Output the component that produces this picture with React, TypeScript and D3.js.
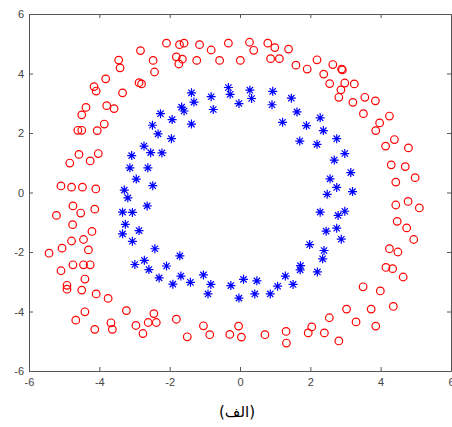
import React, { useRef, useEffect } from "react";
import * as d3 from "d3";

// outer ring, class 1 (red circles)
const redPoints: [number, number][] = [
  [-5.09, 0.22], [-4.79, 0.18], [-4.48, 0.18], [-4.1, 0.12], [-4.84, 0.99],
  [-4.58, 1.28], [-4.26, 1.06], [-4.03, 1.31], [-4.61, 2.09], [-4.5, 2.09],
  [-4.06, 2.08], [-4.5, 2.61], [-4.38, 2.86], [-3.86, 2.3], [-3.79, 2.92],
  [-3.58, 2.82], [-4.15, 3.56], [-4.09, 3.41], [-3.82, 3.82], [-3.34, 3.35],
  [-3.45, 4.45], [-3.41, 4.19], [-2.87, 3.69], [-2.8, 3.65], [-2.83, 4.77],
  [-2.47, 4.44], [-2.43, 4.05], [-2.09, 5.02], [-1.81, 4.56], [-1.74, 4.32],
  [-1.72, 4.97], [-1.59, 5.02], [-1.64, 4.48], [-1.23, 4.44], [-1.15, 4.97],
  [-0.82, 4.79], [-0.58, 4.44], [-0.33, 5.02], [0.01, 4.44], [0.27, 5.05],
  [0.39, 4.78], [0.79, 5.02], [0.99, 4.87], [0.87, 4.5], [1.12, 4.5],
  [1.38, 4.82], [1.59, 4.28], [1.91, 4.15], [2.19, 4.46], [2.38, 3.98],
  [2.55, 3.66], [2.64, 4.3], [2.89, 4.15], [2.91, 4.12], [2.98, 3.68],
  [3.25, 3.65], [2.87, 3.45], [2.81, 3.2], [3.21, 3.03], [3.55, 3.2],
  [3.85, 3.08], [3.51, 2.65], [4.25, 2.57], [3.97, 2.34], [3.86, 2.08],
  [4.39, 1.78], [4.14, 1.56], [4.79, 1.5], [4.3, 0.93], [4.7, 0.87],
  [4.98, 0.5], [4.43, 0.35], [4.43, -0.42], [4.78, -0.3], [5.1, -0.52],
  [4.47, -0.97], [4.74, -1.19], [4.94, -1.58], [4.25, -1.89], [4.49, -2.0],
  [4.15, -2.52], [4.34, -2.56], [4.64, -2.84], [3.5, -3.17], [3.99, -3.31],
  [3.03, -3.92], [3.73, -3.92], [4.36, -3.83], [3.3, -4.35], [3.86, -4.49],
  [2.54, -4.21], [2.81, -4.99], [2.4, -4.72], [2.04, -4.52], [1.94, -4.72],
  [1.31, -4.67], [1.32, -5.06], [0.71, -4.78], [0.04, -4.86], [-0.04, -4.49],
  [-0.29, -4.77], [-0.86, -4.78], [-1.04, -4.48], [-1.5, -4.85], [-1.81, -4.26],
  [-2.45, -4.07], [-2.61, -4.37], [-2.38, -4.37], [-2.76, -4.74], [-2.96, -4.47],
  [-3.23, -3.97], [-3.63, -4.6], [-3.67, -4.38], [-4.13, -4.6], [-4.41, -4.01],
  [-4.67, -4.29], [-3.75, -3.56], [-4.09, -3.41], [-4.5, -3.28], [-4.92, -3.12],
  [-4.92, -3.25], [-4.41, -2.91], [-5.09, -2.63], [-4.75, -2.43], [-4.45, -2.43],
  [-4.26, -2.43], [-5.43, -2.04], [-5.06, -1.87], [-4.31, -1.93], [-4.79, -1.63],
  [-4.45, -1.58], [-4.21, -1.31], [-4.76, -1.08], [-5.22, -0.77], [-4.53, -0.69],
  [-4.13, -0.56], [-4.75, -0.45],
];

// inner ring, class 2 (blue stars)
const bluePoints: [number, number][] = [
  [-3.29, 0.08], [-3.19, -0.18], [-2.95, 0.45], [-3.13, 0.83], [-3.08, 1.24],
  [-2.62, 0.83], [-2.48, 0.23], [-2.73, 1.56], [-2.54, 1.34], [-2.22, 1.33],
  [-2.33, 1.97], [-2.49, 2.26], [-2.26, 2.65], [-1.95, 1.81], [-1.93, 2.45],
  [-1.66, 2.87], [-1.59, 2.74], [-1.38, 2.3], [-1.31, 3.04], [-1.38, 3.35],
  [-0.82, 3.22], [-0.76, 2.79], [-0.33, 3.53], [-0.28, 3.3], [-0.03, 2.99],
  [0.28, 3.44], [0.33, 3.16], [0.93, 3.4], [0.91, 2.95], [1.46, 3.17],
  [1.62, 2.71], [1.21, 2.36], [1.89, 2.25], [2.28, 2.51], [2.37, 2.08],
  [1.7, 1.73], [2.19, 1.62], [2.75, 1.81], [2.98, 1.31], [2.68, 1.09],
  [3.15, 0.67], [2.56, 0.46], [2.75, 0.17], [3.2, 0.03], [2.48, -0.06],
  [2.28, -0.66], [2.79, -0.77], [2.98, -0.63], [2.45, -1.3], [2.75, -1.2],
  [2.88, -1.57], [1.98, -1.75], [2.39, -1.95], [2.35, -2.23], [1.72, -2.46],
  [1.71, -2.6], [2.2, -2.67], [1.29, -2.81], [1.51, -3.09], [1.07, -3.15],
  [0.86, -3.41], [0.48, -2.97], [0.42, -3.41], [0.1, -2.92], [-0.03, -3.55],
  [-0.26, -3.13], [-0.91, -3.41], [-0.83, -3.09], [-1.04, -2.77], [-1.41, -3.02],
  [-1.91, -3.08], [-1.68, -2.81], [-1.71, -2.13], [-2.09, -2.47], [-2.3, -2.87],
  [-2.59, -2.59], [-2.72, -2.28], [-2.99, -2.42], [-2.42, -1.89], [-3.06, -1.64],
  [-3.34, -1.39], [-2.87, -1.28], [-3.26, -1.07], [-3.34, -0.66], [-3.06, -0.67],
  [-2.64, -0.45],
];

const xTicks = [-6, -4, -2, 0, 2, 4, 6];
const yTicks = [-6, -4, -2, 0, 2, 4, 6];
const caption = "(الف)";

const App = () => {
  const svgRef = useRef<SVGSVGElement>(null);

  useEffect(() => {
    const svg = d3.select(svgRef.current);
    svg.selectAll("*").remove();

    const width = 452;
    const height = 427;
    const margin = { top: 14, right: 1, bottom: 56, left: 29 };

    const x = d3
      .scaleLinear()
      .domain([-6, 6])
      .range([margin.left, width - margin.right]);

    const y = d3
      .scaleLinear()
      .domain([-6, 6])
      .range([height - margin.bottom, margin.top]);

    const fmt = (d: any) => String(d);
    const axisColor = "#555";

    const styleAxis = (g: any) => {
      g.select(".domain").attr("stroke", axisColor);
      g.selectAll(".tick line").attr("stroke", axisColor);
      g.selectAll(".tick text")
        .attr("fill", "#444")
        .style("font-family", "'Liberation Sans', Arial, sans-serif")
        .style("font-size", "11px");
    };

    // bottom + left axes with labels, ticks pointing inwards
    svg
      .append("g")
      .attr("transform", `translate(0, ${height - margin.bottom})`)
      .call(
        d3.axisBottom(x).tickValues(xTicks).tickSize(-4).tickSizeOuter(0).tickPadding(7).tickFormat(fmt)
      )
      .call(styleAxis);

    svg
      .append("g")
      .attr("transform", `translate(${margin.left}, 0)`)
      .call(
        d3.axisLeft(y).tickValues(yTicks).tickSize(-4).tickSizeOuter(0).tickPadding(5).tickFormat(fmt)
      )
      .call(styleAxis);

    // top + right: box with ticks only
    svg
      .append("g")
      .attr("transform", `translate(0, ${margin.top})`)
      .call(d3.axisTop(x).tickValues(xTicks).tickSize(-4).tickSizeOuter(0).tickFormat(() => ""))
      .call(styleAxis);

    svg
      .append("g")
      .attr("transform", `translate(${width - margin.right}, 0)`)
      .call(d3.axisRight(y).tickValues(yTicks).tickSize(-4).tickSizeOuter(0).tickFormat(() => ""))
      .call(styleAxis);

    // red open circles
    svg
      .append("g")
      .selectAll("circle")
      .data(redPoints)
      .join("circle")
      .attr("cx", (d) => x(d[0]))
      .attr("cy", (d) => y(d[1]))
      .attr("r", 3.8)
      .attr("fill", "none")
      .attr("stroke", "#ff0000")
      .attr("stroke-width", 1.2);

    // blue asterisks
    const s = 4.5;
    const k = s * 0.7;
    const star = `M${-s},0L${s},0M0,${-s}L0,${s}M${-k},${-k}L${k},${k}M${-k},${k}L${k},${-k}`;
    svg
      .append("g")
      .selectAll("path")
      .data(bluePoints)
      .join("path")
      .attr("transform", (d) => `translate(${x(d[0])}, ${y(d[1])})`)
      .attr("d", star)
      .attr("fill", "none")
      .attr("stroke", "#0000ff")
      .attr("stroke-width", 1.2);

    svg
      .append("text")
      .attr("x", 237)
      .attr("y", 417)
      .attr("text-anchor", "middle")
      .style("font-family", "'DejaVu Sans', sans-serif")
      .style("font-size", "15px")
      .attr("fill", "#000")
      .text(caption);
  }, []);

  return (
    <svg
      ref={svgRef}
      width="452"
      height="427"
      style={{ position: "absolute", left: 0, top: 0, background: "#fff" }}
    />
  );
};

export default App;
